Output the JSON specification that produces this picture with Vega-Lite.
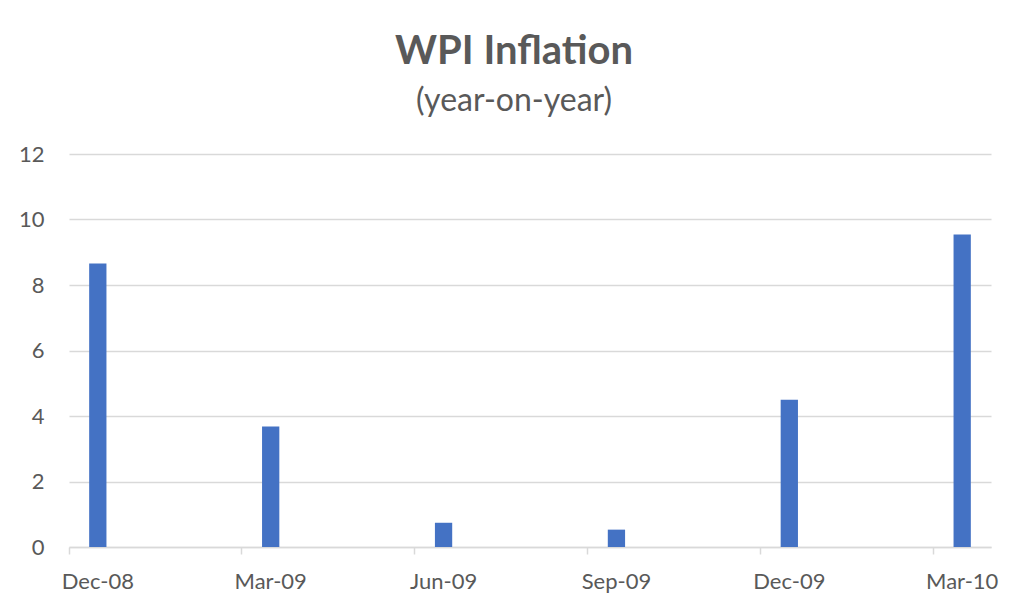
{
  "$schema": "https://vega.github.io/schema/vega-lite/v6.json",
  "autosize": {"type": "none"},
  "width": 922,
  "height": 393,
  "padding": {"left": 69, "top": 154, "right": 33, "bottom": 68},
  "background": "white",
  "title": {
    "text": "WPI Inflation",
    "subtitle": "(year-on-year)",
    "anchor": "middle",
    "frame": "group",
    "dx": -16,
    "offset": 26,
    "font": "Lato",
    "fontSize": 40,
    "fontWeight": "bold",
    "color": "#595959",
    "subtitleFont": "Lato",
    "subtitleFontSize": 32,
    "subtitleColor": "#595959",
    "subtitlePadding": 14
  },
  "data": {
    "values": [
      {"month": "Dec-08", "inflation": 8.66},
      {"month": "Mar-09", "inflation": 3.68},
      {"month": "Jun-09", "inflation": 0.74},
      {"month": "Sep-09", "inflation": 0.53},
      {"month": "Dec-09", "inflation": 4.5},
      {"month": "Mar-10", "inflation": 9.54}
    ]
  },
  "mark": {"type": "bar", "color": "#4472C4", "width": {"band": 0.3}},
  "encoding": {
    "x": {
      "field": "month",
      "type": "ordinal",
      "sort": null,
      "scale": {
        "domain": ["Dec-08", "Jan-09", "Feb-09", "Mar-09", "Apr-09", "May-09", "Jun-09", "Jul-09", "Aug-09", "Sep-09", "Oct-09", "Nov-09", "Dec-09", "Jan-10", "Feb-10", "Mar-10"],
        "paddingInner": 0,
        "paddingOuter": 0
      },
      "axis": {
        "title": null,
        "values": ["Dec-08", "Mar-09", "Jun-09", "Sep-09", "Dec-09", "Mar-10"],
        "bandPosition": 0,
        "labelOffset": 0,
        "labelAngle": 0,
        "labelFont": "Lato",
        "labelFontSize": 22,
        "labelColor": "#595959",
        "labelPadding": 17,
        "tickSize": 7,
        "tickColor": "#d9d9d9",
        "tickWidth": 1.5,
        "domainColor": "#d9d9d9",
        "domainWidth": 1.5,
        "grid": false
      }
    },
    "y": {
      "field": "inflation",
      "type": "quantitative",
      "scale": {"domain": [0, 12], "nice": false},
      "axis": {
        "title": null,
        "values": [0, 2, 4, 6, 8, 10, 12],
        "domain": false,
        "ticks": false,
        "labelFont": "Lato",
        "labelFontSize": 22,
        "labelColor": "#595959",
        "labelPadding": 25,
        "gridColor": "#d9d9d9",
        "gridWidth": 1.5
      }
    }
  },
  "config": {"view": {"stroke": null}}
}
